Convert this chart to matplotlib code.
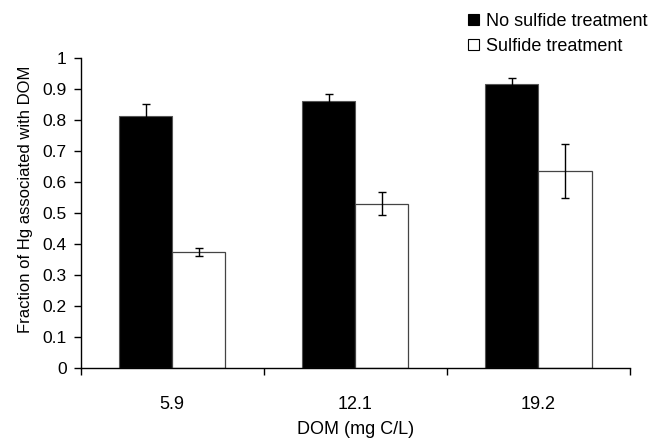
import matplotlib
matplotlib.use("Agg")
import matplotlib.pyplot as plt
from matplotlib.patches import Patch
import numpy as np

plt.rcParams['font.family'] = ['Liberation Sans', 'DejaVu Sans']

categories = ["5.9", "12.1", "19.2"]
no_sulfide = [0.815, 0.862, 0.918]
no_sulfide_err = [0.036, 0.023, 0.019]
sulfide = [0.375, 0.530, 0.637]
sulfide_err = [0.014, 0.037, 0.087]
series_names = ["No sulfide treatment", "Sulfide treatment"]

FS = 13

fig = plt.figure(figsize=(6.54, 4.38), dpi=100)
ax = fig.add_axes([80.7/654, 1-368/438, (630-80.7)/654, (368-58.3)/438])

x = np.arange(len(categories))
w = 0.29
ax.bar(x - w/2, no_sulfide, w, color='black', edgecolor='#555555', linewidth=0.8, zorder=2)
ax.bar(x + w/2, sulfide, w, color='white', edgecolor='#444444', linewidth=0.9, zorder=2)
ax.errorbar(x - w/2, no_sulfide, yerr=no_sulfide_err, fmt='none', ecolor='black',
            elinewidth=1.0, capsize=2.6, capthick=1.0, zorder=3)
ax.errorbar(x + w/2, sulfide, yerr=sulfide_err, fmt='none', ecolor='black',
            elinewidth=1.0, capsize=2.6, capthick=1.0, zorder=3)

ax.set_xlim(-0.5, len(categories) - 0.5)
ax.set_ylim(0, 1)
ax.set_yticks(np.arange(0, 1.01, 0.1))
ax.set_yticklabels(["0", "0.1", "0.2", "0.3", "0.4", "0.5", "0.6", "0.7", "0.8", "0.9", "1"])
ax.set_xticks(np.arange(-0.5, len(categories), 1.0))
ax.set_xticklabels([])
ax.set_xticks(x, minor=True)
ax.set_xticklabels(categories, minor=True)
ax.tick_params(axis='x', which='minor', length=0, pad=20, labelsize=FS)
ax.tick_params(axis='x', which='major', length=5, width=1, direction='out')
ax.tick_params(axis='y', length=5, width=1, direction='out', labelsize=12.5, pad=5)

for s in ['top', 'right']:
    ax.spines[s].set_visible(False)
for s in ['left', 'bottom']:
    ax.spines[s].set_linewidth(1.0)

ax.set_xlabel("DOM (mg C/L)", fontsize=FS, labelpad=6)
ax.set_ylabel("Fraction of Hg associated with DOM", fontsize=12)
ax.yaxis.set_label_coords((33 - 80.7) / 549.3, (368 - 199) / 309.7)

handles = [Patch(facecolor='black', edgecolor='black', linewidth=0.8),
           Patch(facecolor='white', edgecolor='black', linewidth=0.8)]
fig.legend(handles, series_names, loc='upper left', bbox_to_anchor=(468/654, 1 - 13/438),
           frameon=False, fontsize=FS, handlelength=0.6, handleheight=0.6,
           handletextpad=0.4, labelspacing=0.45, borderpad=0, borderaxespad=0)

fig.savefig("out.png", dpi=100)
